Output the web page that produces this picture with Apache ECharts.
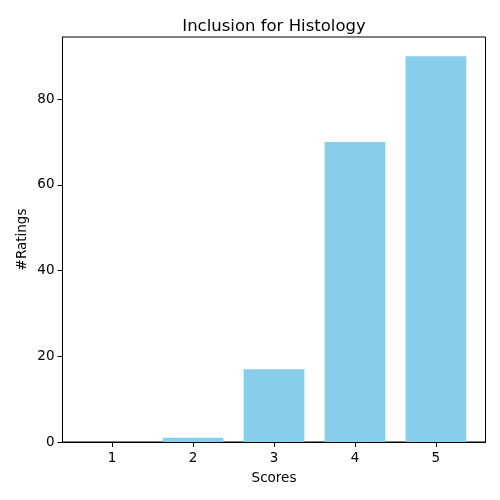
<!DOCTYPE html>
<html>
<head>
<meta charset="utf-8">
<script src="https://cdn.jsdelivr.net/npm/echarts@6/dist/echarts.min.js"></script>
<style>
  html, body { margin: 0; padding: 0; background: #fff; }
  #chart { width: 500px; height: 500px; }
</style>
</head>
<body>
<div id="chart"></div>
<script>
var scores = [1, 2, 3, 4, 5];
var ratings = [0, 1, 17, 70, 90];
var yTicks = [0, 20, 40, 60, 80];

var FONT = "DejaVu Sans";

function InitBars() {
  var myChart = echarts.init(document.getElementById("chart"));
  var xMin = 0.3875, xMax = 5.6125;
  var plotW = 500 - 62.5 - 14.5;
  var barW = plotW / (xMax - xMin) * 0.75;

  var option = {
    animation: false,
    title: {
      text: "Inclusion for Histology",
      left: 269,
      textAlign: "center",
      top: 13,
      textStyle: { fontFamily: FONT, fontSize: 16.5, fontWeight: "normal", color: "#000" },
    },
    grid: {
      left: 62.5,
      right: 14.5,
      top: 37,
      bottom: 58,
      show: true,
      borderColor: "#000",
      borderWidth: 1,
    },
    xAxis: {
      type: "value",
      min: xMin,
      max: xMax,
      name: "Scores",
      nameLocation: "middle",
      nameGap: 29,
      nameTextStyle: { fontFamily: FONT, fontSize: 13.5, color: "#000" },
      axisLine: { show: true, onZero: false, lineStyle: { color: "#000", width: 1 } },
      axisTick: { show: true, length: 5, customValues: scores, lineStyle: { color: "#000" } },
      axisLabel: {
        customValues: scores,
        margin: 9,
        fontFamily: FONT,
        fontSize: 13.5,
        color: "#000",
      },
      splitLine: { show: false },
    },
    yAxis: {
      type: "value",
      min: 0,
      max: 94.5,
      name: "#Ratings",
      nameLocation: "middle",
      nameGap: 33,
      nameMoveOverlap: false,
      nameTextStyle: { fontFamily: FONT, fontSize: 13.5, color: "#000" },
      axisLine: { show: true, lineStyle: { color: "#000", width: 1 } },
      axisTick: { show: true, length: 5, customValues: yTicks, lineStyle: { color: "#000" } },
      axisLabel: {
        customValues: yTicks,
        margin: 8,
        fontFamily: FONT,
        fontSize: 13.5,
        color: "#000",
      },
      splitLine: { show: false },
    },
    series: [
      {
        type: "bar",
        barWidth: barW,
        itemStyle: { color: "#87CEEB", borderWidth: 0 },
        emphasis: { disabled: true },
        data: scores.map(function (s, i) { return [s, ratings[i]]; }),
      },
    ],
  };
  myChart.setOption(option);
}

InitBars();
</script>
</body>
</html>
